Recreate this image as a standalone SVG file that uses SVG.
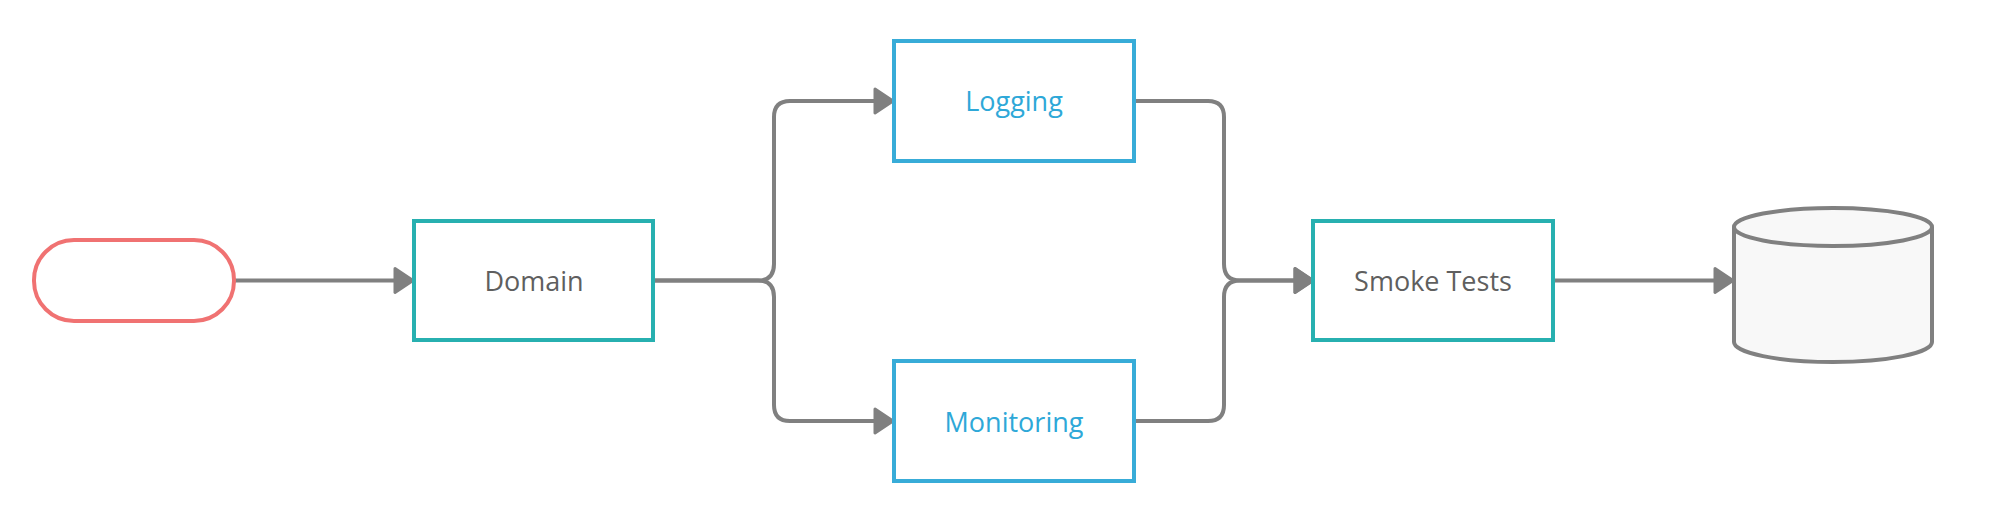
<svg xmlns="http://www.w3.org/2000/svg" width="2007" height="521" viewBox="0 0 2007 521">
<style>
.box{fill:#ffffff;stroke-width:4}
.teal{stroke:#27b0b0}
.blue{stroke:#38acd8}
.lbl{font-family:"Open Sans","Noto Sans","Liberation Sans",sans-serif;font-size:27px;text-anchor:middle}
.gray{fill:#5f5f5f}
.bluet{fill:#2ea8d8}
.conn{fill:none;stroke:#808080;stroke-width:4}
</style>
<defs>
<marker id="arr" markerUnits="userSpaceOnUse" markerWidth="24" markerHeight="30" viewBox="0 0 24 30" refX="2" refY="15" orient="auto">
<path d="M2,3 L20,15 L2,27 Z" fill="#808080" stroke="#808080" stroke-width="3" stroke-linejoin="round"/>
</marker>
</defs>
<g id="connectors">
<path class="conn" d="M234,280.5 H395" marker-end="url(#arr)"/>
<path class="conn" d="M654,280.5 H758 Q774,280.5 774,264 V117 Q774,101 790,101 H875" marker-end="url(#arr)"/>
<path class="conn" d="M654,280.5 H758 Q774,280.5 774,297 V405 Q774,421 790,421 H875" marker-end="url(#arr)"/>
<path class="conn" d="M1134,101 H1208 Q1224,101 1224,117 V264 Q1224,280.5 1240,280.5 H1295" marker-end="url(#arr)"/>
<path class="conn" d="M1134,421 H1208 Q1224,421 1224,405 V297 Q1224,280.5 1240,280.5 H1295" marker-end="url(#arr)"/>
<path class="conn" d="M1554,280.5 H1715" marker-end="url(#arr)"/>
</g>
<g id="start">
<rect x="34" y="240" width="200" height="81" rx="40" ry="40" fill="#ffffff" stroke="#f07272" stroke-width="4"/>
</g>
<g id="domain">
<rect class="box teal" x="414" y="221" width="239" height="119"/>
<text class="lbl gray" x="534" y="291">Domain</text>
</g>
<g id="logging">
<rect class="box blue" x="894" y="41" width="240" height="120"/>
<text class="lbl bluet" x="1014" y="111">Logging</text>
</g>
<g id="monitoring">
<rect class="box blue" x="894" y="361" width="240" height="120"/>
<text class="lbl bluet" x="1014" y="432">Monitoring</text>
</g>
<g id="smoke">
<rect class="box teal" x="1313" y="221" width="240" height="119"/>
<text class="lbl gray" x="1433" y="291">Smoke Tests</text>
</g>
<g id="database">
<path d="M1734,227 V342 A99,20 0 0 0 1932,342 V227" fill="#f8f8f8" stroke="#808080" stroke-width="4"/>
<ellipse cx="1833" cy="227" rx="99" ry="19" fill="#f8f8f8" stroke="#808080" stroke-width="4"/>
</g>
</svg>
